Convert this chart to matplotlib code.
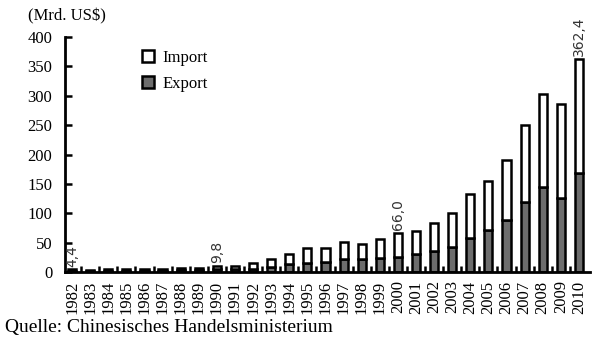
import numpy as np
import matplotlib
matplotlib.use('Agg')
import matplotlib.pyplot as plt

years = list(range(1982, 2011))
total = [4.4, 4.2, 4.6, 4.5, 4.9, 5.6, 6.6, 7.1, 9.8, 10.5,
         16, 22, 30, 41, 41, 52, 48, 56, 66.0, 70,
         84, 100, 133, 155, 191, 250, 304, 286, 362.4]
export = [2.0, 1.9, 2.1, 2.1, 2.2, 2.6, 3.0, 3.3, 4.5, 5.0,
          6, 9, 13.6, 15.8, 17.5, 22, 22, 24, 26, 30,
          36, 43, 58, 71.5, 88.5, 119, 144, 126, 168]
labels = {1982: '4,4', 1990: '9,8', 2000: '66,0', 2010: '362,4'}

imp = np.array(total) - np.array(export)
x = np.arange(len(years))

serif = 'Liberation Serif'
fig = plt.figure(figsize=(6, 3.47), dpi=100)
ax = fig.add_axes([0.108, 0.216, 0.875, 0.677])

w = 0.45
b_exp = ax.bar(x, export, w, color='#6d6d6d', edgecolor='black', linewidth=1.8, label='Export')
b_imp = ax.bar(x, imp, w, bottom=export, color='white', edgecolor='black', linewidth=1.8, label='Import')

for i, y in enumerate(years):
    if y in labels:
        ax.text(x[i], total[i] + 5, labels[y], rotation=90, ha='center', va='bottom',
                fontsize=10, family='DejaVu Sans', color='#333333')

ax.set_xlim(-0.4, 28.6)
ax.set_ylim(0, 400)
ax.set_yticks(range(0, 401, 50))
ax.set_yticklabels([str(v) for v in range(0, 401, 50)], family=serif, fontsize=12)
ax.set_xticks(x)
ax.set_xticklabels([str(y) for y in years], rotation=90, family=serif, fontsize=12)
ax.set_xticks(x[:-1] + 0.5, minor=True)
ax.tick_params(axis='x', which='major', length=0, pad=6)
ax.tick_params(axis='x', which='minor', direction='in', length=4, width=1.8)
ax.tick_params(axis='y', direction='in', length=5, width=1.8, pad=9)

for s in ['top', 'right']:
    ax.spines[s].set_visible(False)
for s in ['left', 'bottom']:
    ax.spines[s].set_linewidth(2)

ax.legend([b_imp, b_exp], ['Import', 'Export'], loc='upper left', bbox_to_anchor=(0.118, 1.01),
          frameon=False, prop={'family': serif, 'size': 12}, handlelength=0.75, handleheight=0.75,
          handletextpad=0.5, labelspacing=0.6)

fig.text(0.047, 0.953, '(Mrd. US$)', family=serif, fontsize=12, va='center')
fig.text(0.008, 0.055, 'Quelle: Chinesisches Handelsministerium', family=serif, fontsize=14, va='center')

fig.savefig('out.png', dpi=100)
